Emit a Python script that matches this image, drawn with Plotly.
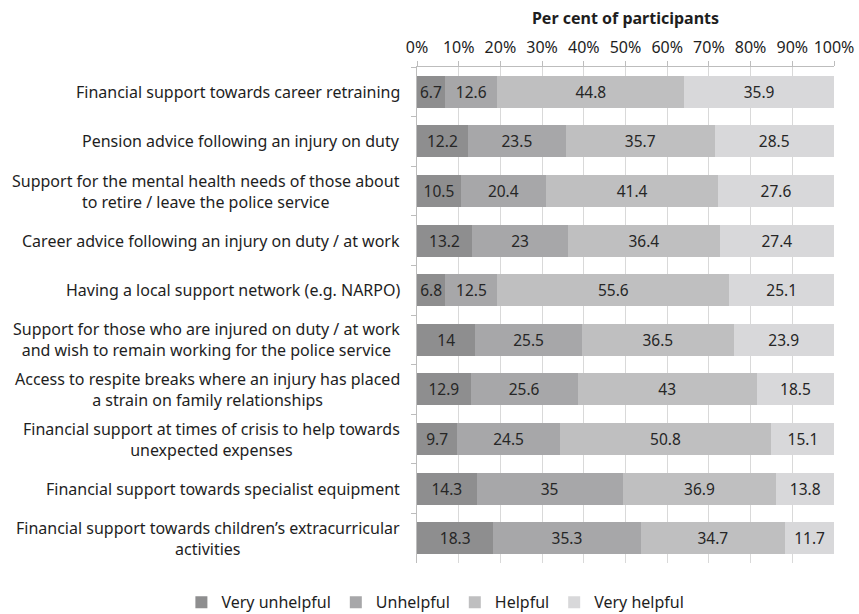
import plotly.graph_objects as go

categories = [
    "Financial support towards career retraining",
    "Pension advice following an injury on duty",
    "Support for the mental health needs of those about<br>to retire / leave the police service",
    "Career advice following an injury on duty / at work",
    "Having a local support network (e.g. NARPO)",
    "Support for those who are injured on duty / at work<br>and wish to remain working for the police service",
    "Access to respite breaks where an injury has placed<br>a strain on family relationships",
    "Financial support at times of crisis to help towards<br>unexpected expenses",
    "Financial support towards specialist equipment",
    "Financial support towards children\u2019s extracurricular<br>activities",
]

very_unhelpful = [6.7, 12.2, 10.5, 13.2, 6.8, 14, 12.9, 9.7, 14.3, 18.3]
unhelpful = [12.6, 23.5, 20.4, 23, 12.5, 25.5, 25.6, 24.5, 35, 35.3]
helpful = [44.8, 35.7, 41.4, 36.4, 55.6, 36.5, 43, 50.8, 36.9, 34.7]
very_helpful = [35.9, 28.5, 27.6, 27.4, 25.1, 23.9, 18.5, 15.1, 13.8, 11.7]

series = [
    ("Very unhelpful", very_unhelpful, "#8e8e8f"),
    ("Unhelpful", unhelpful, "#a7a7a9"),
    ("Helpful", helpful, "#bfbfc0"),
    ("Very helpful", very_helpful, "#d8d8da"),
]

tick_vals = [0, 10, 20, 30, 40, 50, 60, 70, 80, 90, 100]
tick_text = [f"{v}%" for v in tick_vals]

FONT = "Noto Sans"
TEXT = "#1e1e1e"
FS = 16

fig = go.Figure()
for name, vals, color in series:
    fig.add_trace(go.Bar(
        y=categories,
        x=vals,
        name=name,
        orientation="h",
        marker=dict(color=color, line=dict(width=0)),
        text=[f"{v:g}" for v in vals],
        textposition="inside",
        insidetextanchor="middle",
        textangle=0,
        textfont=dict(family=FONT, size=15.5, color="#262626"),
        hoverinfo="skip",
    ))

# category labels, right-aligned block with centred lines
for cat in categories:
    fig.add_annotation(
        x=0, xref="paper", xanchor="right", xshift=-15,
        y=cat, yref="y", yanchor="middle",
        text=cat, showarrow=False, align="center",
        font=dict(family=FONT, size=FS, color=TEXT),
    )

fig.update_layout(
    width=859, height=614,
    margin=dict(l=417, r=25, t=67, b=51, autoexpand=False),
    paper_bgcolor="white", plot_bgcolor="white",
    barmode="stack", bargap=0.355,
    font=dict(family=FONT, color=TEXT),
    uniformtext=dict(mode=False),
    legend=dict(
        orientation="h", xref="paper", x=-0.565, xanchor="left",
        y=-0.045, yanchor="top",
        traceorder="normal",
        font=dict(family=FONT, size=FS, color=TEXT),
        itemwidth=30,
    ),
    xaxis=dict(
        side="top", range=[0, 100],
        tickvals=tick_vals, ticktext=tick_text,
        tickfont=dict(family=FONT, size=FS, color=TEXT),
        showgrid=True, gridcolor="#d9d9d9", gridwidth=1,
        showline=True, linecolor="#bdbdbd", linewidth=1,
        ticks="outside", ticklen=5, tickcolor="#bdbdbd",
        ticklabelstandoff=2,
        zeroline=False, fixedrange=True,
        title=dict(text="<b>Per cent of participants</b>",
                   font=dict(family=FONT, size=FS, color=TEXT), standoff=6),
    ),
    yaxis=dict(
        type="category", autorange="reversed",
        showticklabels=False,
        showline=True, linecolor="#bdbdbd", linewidth=1,
        ticks="outside", ticklen=5, tickcolor="#bdbdbd",
        tickson="boundaries", showgrid=False, fixedrange=True,
    ),
)

fig.write_html("out.html")
